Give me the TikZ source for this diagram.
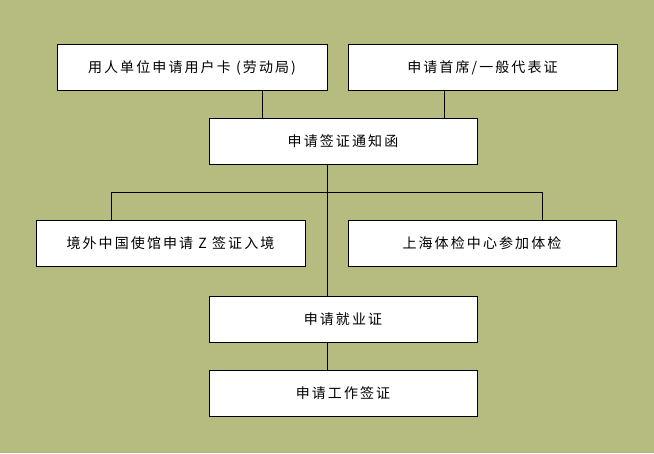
\documentclass[tikz,border=0pt]{standalone}
\usepackage{fontspec}
\newfontfamily\cjk[LetterSpace=15]{Noto Sans CJK SC}
\usepackage{tikz}
\usetikzlibrary{positioning, calc}
\usepackage{xcolor}
\definecolor{olivebg}{RGB}{182,188,127}

\begin{document}
\begin{tikzpicture}[x=1pt, y=-1pt,
  stepbox/.style={draw=black, line width=0.8pt, fill=white, minimum height=46pt,
    inner sep=0pt, font=\cjk\fontsize{14}{16}\selectfont},
  link/.style={draw=black, line width=0.8pt}]
  % background
  \fill[olivebg] (0,0) rectangle (654,453);
  \useasboundingbox (0,0) rectangle (654,453);
  % boxes
  \node[stepbox, minimum width=270pt] (card) at (192,67.5) {用人单位申请用户卡 (劳动局)};
  \node[stepbox, minimum width=269pt] (rep) at (482.5,67.5) {申请首席/一般代表证};
  \node[stepbox, minimum width=268pt] (notice) at (343,141) {申请签证通知函};
  \node[stepbox, minimum width=269pt] (embassy) at (170.5,243.5) {境外中国使馆申请 Z 签证入境};
  \node[stepbox, minimum width=268pt] (health) at (482,243.5) {上海体检中心参加体检};
  \node[stepbox, minimum width=268pt] (employ) at (343,319) {申请就业证};
  \node[stepbox, minimum width=268pt] (work) at (343,393) {申请工作签证};
  % joints
  \coordinate (j1) at (262,0);
  \coordinate (j2) at (444,0);
  \coordinate (trunk) at (327,0);
  \coordinate (bl) at (111,192);
  \coordinate (br) at (542,192);
  % lines
  \draw[link] (card.south -| j1) -- (notice.north -| j1);
  \draw[link] (rep.south -| j2) -- (notice.north -| j2);
  \draw[link] (notice.south -| trunk) -- (employ.north -| trunk);
  \draw[link] (embassy.north -| bl) -- (bl) -- (br) -- (health.north -| br);
  \draw[link] (employ.south -| trunk) -- (work.north -| trunk);
\end{tikzpicture}
\end{document}
